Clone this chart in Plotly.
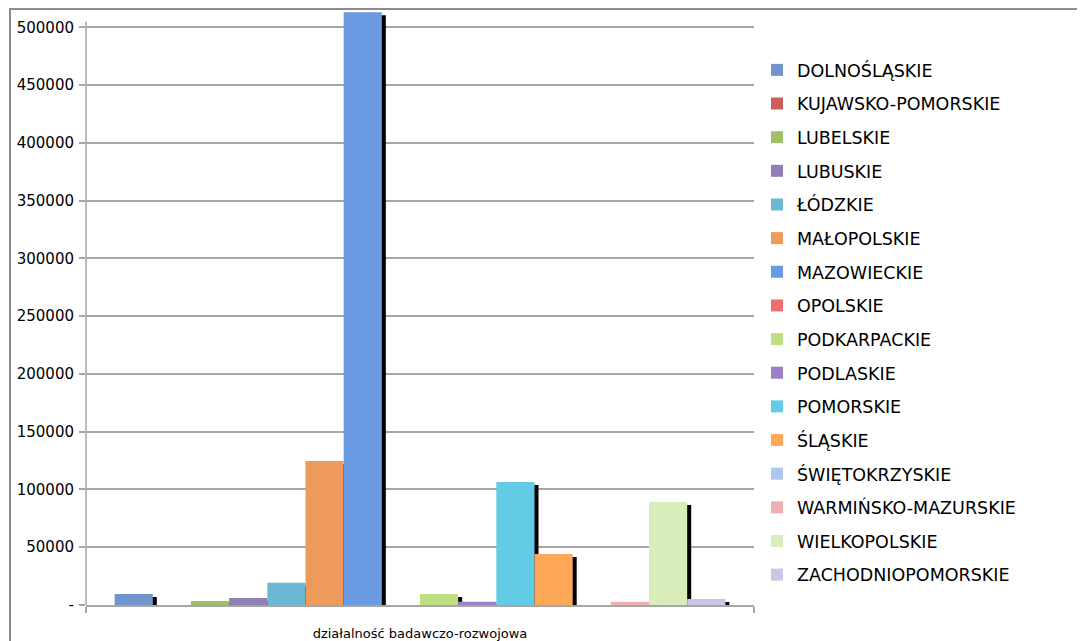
import plotly.graph_objects as go

category = ["działalność badawczo-rozwojowa"]

regions = [
    "DOLNOŚLĄSKIE", "KUJAWSKO-POMORSKIE", "LUBELSKIE", "LUBUSKIE",
    "ŁÓDZKIE", "MAŁOPOLSKIE", "MAZOWIECKIE", "OPOLSKIE",
    "PODKARPACKIE", "PODLASKIE", "POMORSKIE", "ŚLĄSKIE",
    "ŚWIĘTOKRZYSKIE", "WARMIŃSKO-MAZURSKIE", "WIELKOPOLSKIE", "ZACHODNIOPOMORSKIE",
]

values = [
    9500, 0, 3500, 6000,
    19300, 124600, 513000, 0,
    9500, 2900, 106400, 44100,
    0, 2900, 89100, 5200,
]

colors = [
    "#7194CC", "#CC5F5C", "#A2BF68", "#9280B4",
    "#6AB8D2", "#EE9A5A", "#6A9BE2", "#EE6E6E",
    "#BFDF80", "#9A80C6", "#62CBE6", "#FFA85A",
    "#AFC7F0", "#EFAFAF", "#D8EDBA", "#CFC3E4",
]

tick_values = [0, 50000, 100000, 150000, 200000, 250000, 300000, 350000, 400000, 450000, 500000]
tick_labels = ["-", "50000", "100000", "150000", "200000", "250000", "300000", "350000", "400000", "450000", "500000"]

# layout geometry (figure pixels; page has an 8px body margin)
OFF = 8
W, H = 1085 - OFF, 641 - OFF
PL, PR, PT, PB = 86 - OFF, 754 - OFF, 10 - OFF, 605 - OFF
plot_w = PR - PL
plot_h = PB - PT
y_top = 515000
px_per_unit = plot_h / y_top

n = len(regions)
gap_ratio = 1.5  # Excel gap width 150%
slot = 1.0 / (n + gap_ratio)
start = -0.5 + slot * gap_ratio / 2
shadow_dx = 4 / plot_w
shadow_dy = 3 / px_per_unit

fig = go.Figure()

# shadows (drawn behind)
for i, (name, v) in enumerate(zip(regions, values)):
    fig.add_trace(go.Bar(
        x=category, y=[max(v - shadow_dy, 0)],
        offset=start + i * slot + shadow_dx, width=slot,
        marker=dict(color="#000000", line=dict(width=0)),
        showlegend=False, hoverinfo="skip",
    ))

for i, (name, v, c) in enumerate(zip(regions, values, colors)):
    fig.add_trace(go.Bar(
        x=category, y=[v], name=name,
        offset=start + i * slot, width=slot,
        marker=dict(color=c, line=dict(width=0)),
        legendgroup=name,
    ))

fig.update_layout(
    template="none",
    width=W, height=H,
    margin=dict(l=PL, r=W - PR, t=PT, b=H - PB, autoexpand=False),
    barmode="overlay",
    plot_bgcolor="white", paper_bgcolor="white",
    font=dict(family="DejaVu Sans", color="#000000"),
    showlegend=True,
    legend=dict(
        x=(757 - OFF - PL) / plot_w, xanchor="left",
        y=1 - (52 - OFF - PT) / plot_h, yanchor="top",
        font=dict(size=17.5, family="DejaVu Sans", color="#000000"),
        tracegroupgap=7.9,
        traceorder="grouped",
        bgcolor="rgba(0,0,0,0)",
        borderwidth=0,
        itemclick=False,
    ),
    xaxis=dict(
        type="category",
        automargin=False,
        showgrid=False, zeroline=False,
        showline=True, linecolor="#A6A6A6", linewidth=1.5,
        ticks="outside", tickson="boundaries", ticklen=6, tickcolor="#A6A6A6", tickwidth=1.5,
        tickfont=dict(size=13, family="DejaVu Sans", color="#000000"),
        ticklabelstandoff=16,
        range=[-0.5, 0.5],
        fixedrange=True,
    ),
    yaxis=dict(
        automargin=False,
        range=[0, y_top],
        tickvals=tick_values, ticktext=tick_labels,
        showgrid=True, gridcolor="#A6A6A6", gridwidth=1.5,
        zeroline=False,
        showline=False,
        ticks="outside", ticklen=6, tickcolor="#A6A6A6", tickwidth=1.5,
        tickfont=dict(size=15, family="DejaVu Sans", color="#000000"),
        ticklabelstandoff=2,
        fixedrange=True,
    ),
    shapes=[
        # y axis line
        dict(type="line", xref="paper", yref="y", x0=0, x1=0, y0=0, y1=tick_values[-1] + 5000,
             line=dict(color="#A6A6A6", width=1.5), layer="above"),
        # outer chart frame
        dict(type="rect", xref="paper", yref="paper",
             x0=(10 - OFF - PL) / plot_w, x1=(W + 20 - PL) / plot_w,
             y0=(PB - (H + 20)) / plot_h, y1=(PB - 1) / plot_h,
             line=dict(color="#8C8C8C", width=2), fillcolor="rgba(0,0,0,0)", layer="below"),
    ],
)

fig.write_html("out.html")
